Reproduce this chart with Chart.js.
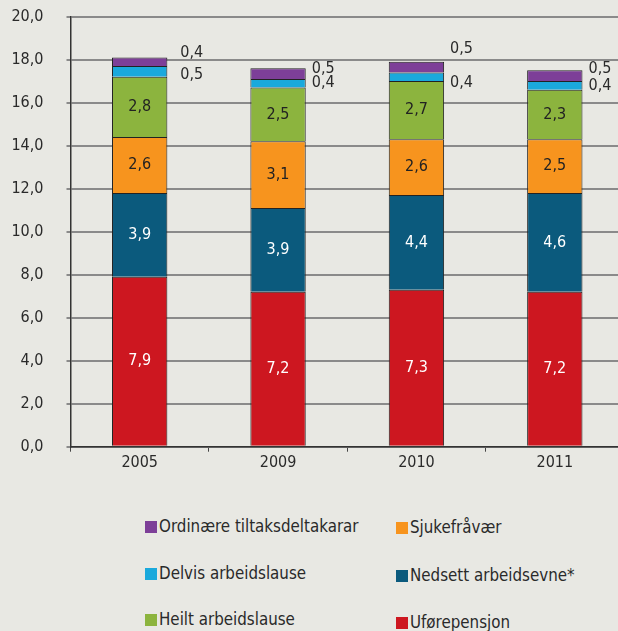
<!DOCTYPE html>
<html>
<head>
<meta charset="utf-8">
<script src="https://cdn.jsdelivr.net/npm/chart.js@4/dist/chart.umd.min.js"></script>
<style>
  html, body { margin: 0; padding: 0; background: #e8e8e3; overflow: hidden; }
  #wrap { position: relative; width: 618px; height: 631px; overflow: hidden; }
  #box { position: absolute; left: 0; top: -16px; width: 640px; height: 496px; }
  .leg { position: absolute; font-family: "DejaVu Sans Condensed", "DejaVu Sans"; font-size: 16.8px; color: #2a2a2a; white-space: nowrap; line-height: 18px; }
  .leg i { display: inline-block; width: 12px; height: 12px; margin-right: 2px; vertical-align: -1px; }
</style>
</head>
<body>
<div id="wrap">
  <div id="box"><canvas id="chart"></canvas></div>
  <div id="legend"></div>
</div>
<script>
// kategoriar og seriar
const years = ["2005", "2009", "2010", "2011"];
const uforepensjon = [7.9, 7.2, 7.3, 7.2];
const nedsett = [3.9, 3.9, 4.4, 4.6];
const sjukefravaer = [2.6, 3.1, 2.6, 2.5];
const heilt = [2.8, 2.5, 2.7, 2.3];
const delvis = [0.5, 0.4, 0.4, 0.4];
const ordinaere = [0.4, 0.5, 0.5, 0.5];
const yTicks = [0, 2, 4, 6, 8, 10, 12, 14, 16, 18, 20];

const FONT = '"DejaVu Sans Condensed", "DejaVu Sans"';

// små verdiar skrivne til høgre for søyla (pikselforskyving)
const outsideShift = {
  x: [13, 6, 6, 6],
  purple: [-9, -5, -18, -7],
  cyan: [3, 0, 6, 0]
};

const datasets = [
  { label: "Uførepensjon", data: uforepensjon, backgroundColor: "#cd1720", txt: "#ffffff" },
  { label: "Nedsett arbeidsevne*", data: nedsett, backgroundColor: "#0b5a7d", txt: "#ffffff" },
  { label: "Sjukefråvær", data: sjukefravaer, backgroundColor: "#f7941e", txt: "#222222" },
  { label: "Heilt arbeidslause", data: heilt, backgroundColor: "#8cb43e", txt: "#222222" },
  { label: "Delvis arbeidslause", data: delvis, backgroundColor: "#1aa9dc", outside: "cyan" },
  { label: "Ordinære tiltaksdeltakarar", data: ordinaere, backgroundColor: "#7d3f98", outside: "purple" }
];
datasets.forEach(d => {
  d.borderColor = "#222222";
  d.borderWidth = 1;
  d.barPercentage = 0.4;
  d.categoryPercentage = 1.0;
});

const fmt = v => v.toFixed(1).replace(".", ",");

const labelPlugin = {
  id: "labels",
  afterDatasetsDraw(chart) {
    const ctx = chart.ctx;
    ctx.save();
    ctx.font = "16px " + FONT;
    chart.data.datasets.forEach((ds, di) => {
      const meta = chart.getDatasetMeta(di);
      meta.data.forEach((bar, i) => {
        const v = ds.data[i];
        const cy = (bar.y + bar.base) / 2;
        ctx.textBaseline = "middle";
        if (ds.outside) {
          ctx.fillStyle = "#2a2a2a";
          ctx.textAlign = "left";
          ctx.fillText(fmt(v), bar.x + bar.width / 2 + outsideShift.x[i], cy + outsideShift[ds.outside][i]);
        } else {
          ctx.fillStyle = ds.txt;
          ctx.textAlign = "center";
          ctx.fillText(fmt(v), bar.x, cy);
        }
      });
    });
    ctx.restore();
  }
};

let myChart;
window.addEventListener("load", () => {
  const ctx = document.getElementById("chart");
  myChart = new Chart(ctx, {
    type: "bar",
    data: { labels: years, datasets: datasets },
    options: {
      responsive: true,
      maintainAspectRatio: false,
      animation: false,
      layout: { padding: { left: 0, right: 16, top: 0, bottom: 0 } },
      plugins: { legend: { display: false }, tooltip: { enabled: false } },
      scales: {
        x: {
          stacked: true,
          grid: { offset: true, drawOnChartArea: false, drawTicks: true, tickLength: 5, color: "#444", lineWidth: 1 },
          border: { color: "#333", width: 1.5 },
          ticks: { color: "#2a2a2a", font: { family: FONT, size: 16 }, padding: 2 },
          afterFit: s => { s.height = 33.3; }
        },
        y: {
          stacked: true,
          min: 0, max: 20,
          afterBuildTicks: s => { s.ticks = yTicks.map(v => ({ value: v })); },
          grid: { color: "#8a8a8a", lineWidth: 2, tickLength: 4 },
          border: { color: "#333", width: 1.5 },
          ticks: { color: "#2a2a2a", font: { family: FONT, size: 16 }, padding: 23, callback: v => fmt(v) },
          afterFit: s => { s.width = 70.5; }
        }
      }
    },
    plugins: [labelPlugin]
  });

  // forklaring i to kolonnar
  const order = [5, 2, 4, 1, 3, 0];
  const pos = [[145, 517], [396, 518], [145, 564], [396, 566], [145, 610], [396, 613]];
  const legend = document.getElementById("legend");
  order.forEach((di, k) => {
    const ds = datasets[di];
    const el = document.createElement("div");
    el.className = "leg";
    el.style.left = pos[k][0] + "px";
    el.style.top = pos[k][1] + "px";
    el.innerHTML = '<i style="background:' + ds.backgroundColor + '"></i>' + ds.label;
    legend.appendChild(el);
  });
});
</script>
</body>
</html>
